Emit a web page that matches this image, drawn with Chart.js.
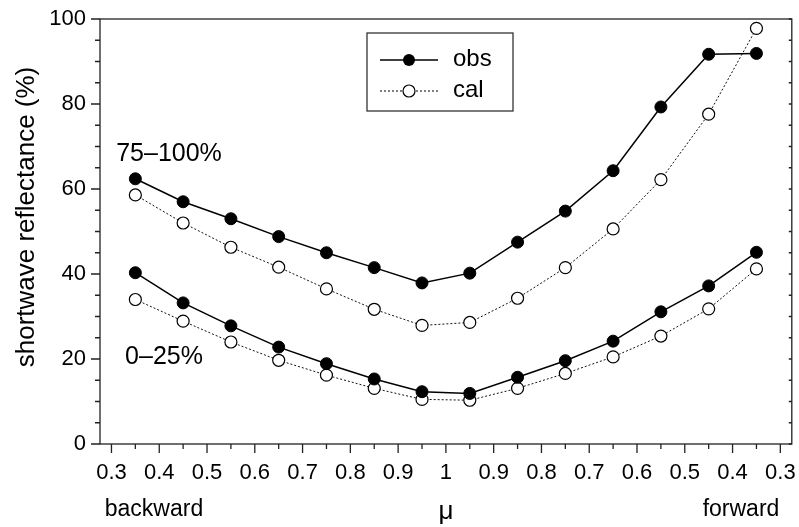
<!DOCTYPE html>
<html>
<head>
<meta charset="utf-8">
<script src="https://cdn.jsdelivr.net/npm/chart.js@4"></script>
<style>
  html, body { margin: 0; padding: 0; background: #fff; }
  #wrap { width: 799px; height: 527px; }
</style>
</head>
<body>
<div id="wrap"><canvas id="myChart" width="799" height="527"></canvas></div>
<script>
// mu tick labels, backward (left) -> 1 -> forward (right)
const muTicks = ["0.3", "0.4", "0.5", "0.6", "0.7", "0.8", "0.9", "1", "0.9", "0.8", "0.7", "0.6", "0.5", "0.4", "0.3"];
// bin centres (between two ticks)
const muBins = ["0.35b", "0.45b", "0.55b", "0.65b", "0.75b", "0.85b", "0.95b", "0.95f", "0.85f", "0.75f", "0.65f", "0.55f", "0.45f", "0.35f"];
// 75-100% cloud cover
const obsHigh = [62.4, 57.0, 53.0, 48.8, 45.0, 41.5, 37.9, 40.2, 47.5, 54.8, 64.3, 79.3, 91.7, 91.9];
const calHigh = [58.6, 52.0, 46.3, 41.6, 36.5, 31.7, 27.9, 28.6, 34.3, 41.5, 50.6, 62.2, 77.6, 97.8];
// 0-25% cloud cover
const obsLow = [40.3, 33.2, 27.8, 22.8, 18.9, 15.3, 12.3, 11.9, 15.7, 19.6, 24.2, 31.1, 37.2, 45.1];
const calLow = [34.0, 28.9, 24.0, 19.7, 16.2, 13.1, 10.5, 10.3, 13.1, 16.6, 20.5, 25.4, 31.8, 41.2];
const yTicks = [0, 20, 40, 60, 80, 100];

const FONT = "'Liberation Sans', Arial, Helvetica, sans-serif";
const ctx = document.getElementById("myChart").getContext("2d");

// bins sit halfway between tick indices
const toPts = arr => arr.map((v, i) => ({ x: i + 0.5, y: v }));

const solid = (data) => ({
    data: toPts(data),
    borderColor: "#000",
    borderWidth: 1.5,
    pointRadius: 6,
    pointBackgroundColor: "#000",
    pointBorderColor: "#000",
    pointBorderWidth: 1,
    tension: 0,
    clip: false
});
const dotted = (data) => ({
    data: toPts(data),
    borderColor: "#111",
    borderWidth: 1,
    borderDash: [2, 2],
    pointRadius: 6,
    pointBackgroundColor: "#fff",
    pointBorderColor: "#000",
    pointBorderWidth: 1.2,
    tension: 0,
    clip: false
});

// frame, ticks, tick labels, legend box and text
const decorations = {
    id: "decorations",
    afterDraw(chart) {
        const c = chart.ctx;
        const a = chart.chartArea;
        const xs = chart.scales.x, ys = chart.scales.y;
        c.save();
        c.strokeStyle = "#222";
        c.lineWidth = 1.3;
        c.strokeRect(a.left, a.top, a.right - a.left, a.bottom - a.top);
        c.beginPath();
        // x ticks: long at labelled values, short at bins
        muTicks.forEach((t, i) => {
            const px = xs.getPixelForValue(i);
            c.moveTo(px, a.bottom); c.lineTo(px, a.bottom + 9);
        });
        muBins.forEach((t, i) => {
            const px = xs.getPixelForValue(i + 0.5);
            c.moveTo(px, a.bottom); c.lineTo(px, a.bottom + 5);
        });
        // y ticks every 5, outward on left, inward on right
        for (let v = 0; v <= 100; v += 5) {
            const py = ys.getPixelForValue(v);
            const len = v % 20 === 0 ? 9 : 5;
            c.moveTo(a.left, py); c.lineTo(a.left - len, py);
            c.moveTo(a.right, py); c.lineTo(a.right - 3, py);
        }
        c.stroke();

        c.fillStyle = "#000";
        c.textBaseline = "middle";
        // tick labels
        c.font = "22px " + FONT;
        c.textAlign = "right";
        yTicks.forEach(v => c.fillText(String(v), a.left - 14, ys.getPixelForValue(v)));
        c.textAlign = "center";
        muTicks.forEach((t, i) => c.fillText(t, xs.getPixelForValue(i), 473));

        // axis title
        c.save();
        c.translate(27, 217);
        c.rotate(-Math.PI / 2);
        c.font = "26px " + FONT;
        c.fillText("shortwave reflectance (%)", 0, 0);
        c.restore();

        c.font = "25px " + FONT;
        c.fillText("75\u2013100%", 169, 154);
        c.fillText("0\u201325%", 164, 357);
        c.font = "23px " + FONT;
        c.fillText("backward", 154, 510);
        c.fillText("forward", 741, 510);
        c.font = "26px " + FONT;
        c.fillText("\u03bc", xs.getPixelForValue(7), 512);

        // legend
        c.strokeStyle = "#333";
        c.lineWidth = 1.3;
        c.strokeRect(367, 33, 146, 78);
        c.strokeStyle = "#000";
        c.lineWidth = 1.5;
        c.beginPath(); c.moveTo(380, 60); c.lineTo(438, 60); c.stroke();
        c.lineWidth = 1;
        c.setLineDash([2, 2]);
        c.beginPath(); c.moveTo(380, 91); c.lineTo(438, 91); c.stroke();
        c.setLineDash([]);
        c.beginPath(); c.arc(409, 60, 6, 0, Math.PI * 2);
        c.fillStyle = "#000"; c.fill();
        c.beginPath(); c.arc(409, 91, 6, 0, Math.PI * 2);
        c.fillStyle = "#fff"; c.fill(); c.lineWidth = 1.2; c.stroke();
        c.fillStyle = "#000";
        c.textAlign = "left";
        c.font = "24px " + FONT;
        c.fillText("obs", 453, 59);
        c.fillText("cal", 453, 90);
        c.restore();
    }
};

new Chart(ctx, {
    type: "line",
    data: {
        datasets: [solid(obsHigh), dotted(calHigh), solid(obsLow), dotted(calLow)]
    },
    plugins: [decorations],
    options: {
        responsive: false,
        animation: false,
        layout: { padding: { top: 19, right: 3, left: 100, bottom: 83 } },
        plugins: {
            legend: { display: false },
            tooltip: { enabled: false }
        },
        scales: {
            x: { type: "linear", min: -0.24, max: 14.24, display: false },
            y: { min: 0, max: 100, display: false }
        }
    }
});
</script>
</body>
</html>
